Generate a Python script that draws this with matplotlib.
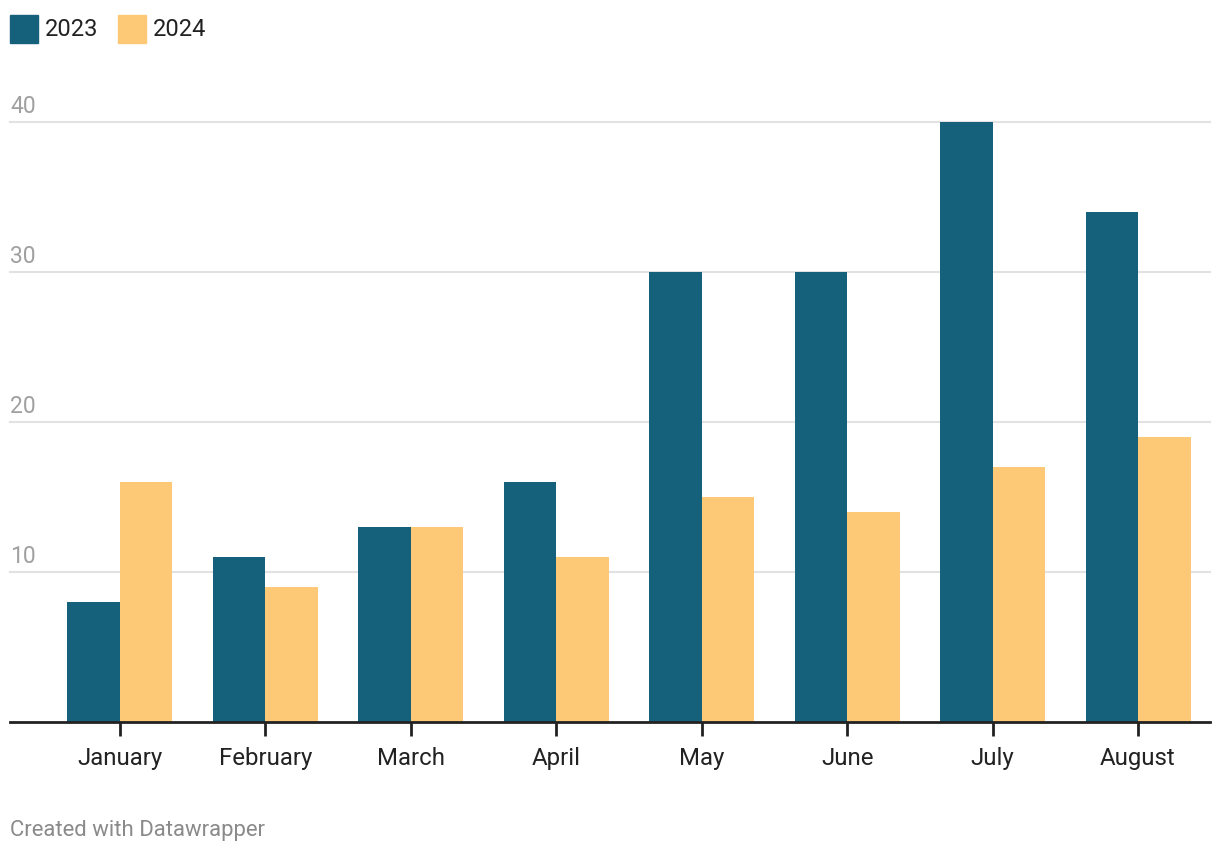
import matplotlib
matplotlib.use("Agg")
import matplotlib.pyplot as plt
from matplotlib.patches import Rectangle
import numpy as np

# Data
months = ["January", "February", "March", "April", "May", "June", "July", "August"]
values_2023 = [8, 11, 13, 16, 30, 30, 40, 34]
values_2024 = [16, 9, 13, 11, 15, 14, 17, 19]
y_ticks = [10, 20, 30, 40]

color_2023 = "#15607a"
color_2024 = "#fec977"

plt.rcParams["font.family"] = ["Roboto", "DejaVu Sans"]

W, H = 1220, 854
fig = plt.figure(figsize=(W / 100, H / 100), dpi=100)

# Axes placed in pixel terms (small shift to line up with the reference)
dy = 2
left, right, top, bottom = 10, 1210, 121 + dy, 721 + dy
ax = fig.add_axes([left / W, (H - bottom) / H, (right - left) / W, (bottom - top) / H])

x = np.arange(len(months))
width = 0.361
ax.bar(x - width, values_2023, width, align="edge", color=color_2023, zorder=3)
ax.bar(x, values_2024, width, align="edge", color=color_2024, zorder=3)

ax.set_xlim(-0.756, 7.495)
ax.set_ylim(0, 40)

# Gridlines and y labels sitting above them
for t in y_ticks:
    ax.axhline(t, color="#e2e2e2", linewidth=1.5, zorder=1, clip_on=False)
    ax.text(0, t + 0.35, str(t), transform=ax.get_yaxis_transform(),
            ha="left", va="bottom", fontsize=16.5, color="#a0a0a0")

ax.axhline(0, color="#222222", linewidth=2, zorder=4, clip_on=False)

for s in ax.spines.values():
    s.set_visible(False)
ax.set_yticks([])
ax.set_xticks(x)
ax.set_xticklabels(months, fontsize=17.3, color="#222222")
ax.tick_params(axis="x", length=10, width=2, color="#222222", pad=7)

# Legend
for i, (lab, col) in enumerate([("2023", color_2023), ("2024", color_2024)]):
    x0 = 10 + i * 108
    fig.patches.append(Rectangle((x0 / W, (H - 42 - dy) / H), 28 / W, 28 / H,
                                 transform=fig.transFigure, color=col))
    fig.text((x0 + 35) / W, (H - 27 - dy) / H, lab, ha="left", va="center",
             fontsize=17, color="#222222")

fig.text(10 / W, (H - 829 - dy) / H, "Created with Datawrapper", ha="left", va="center",
         fontsize=15.9, color="#8a8a8a")

fig.savefig("out.png", dpi=100)
